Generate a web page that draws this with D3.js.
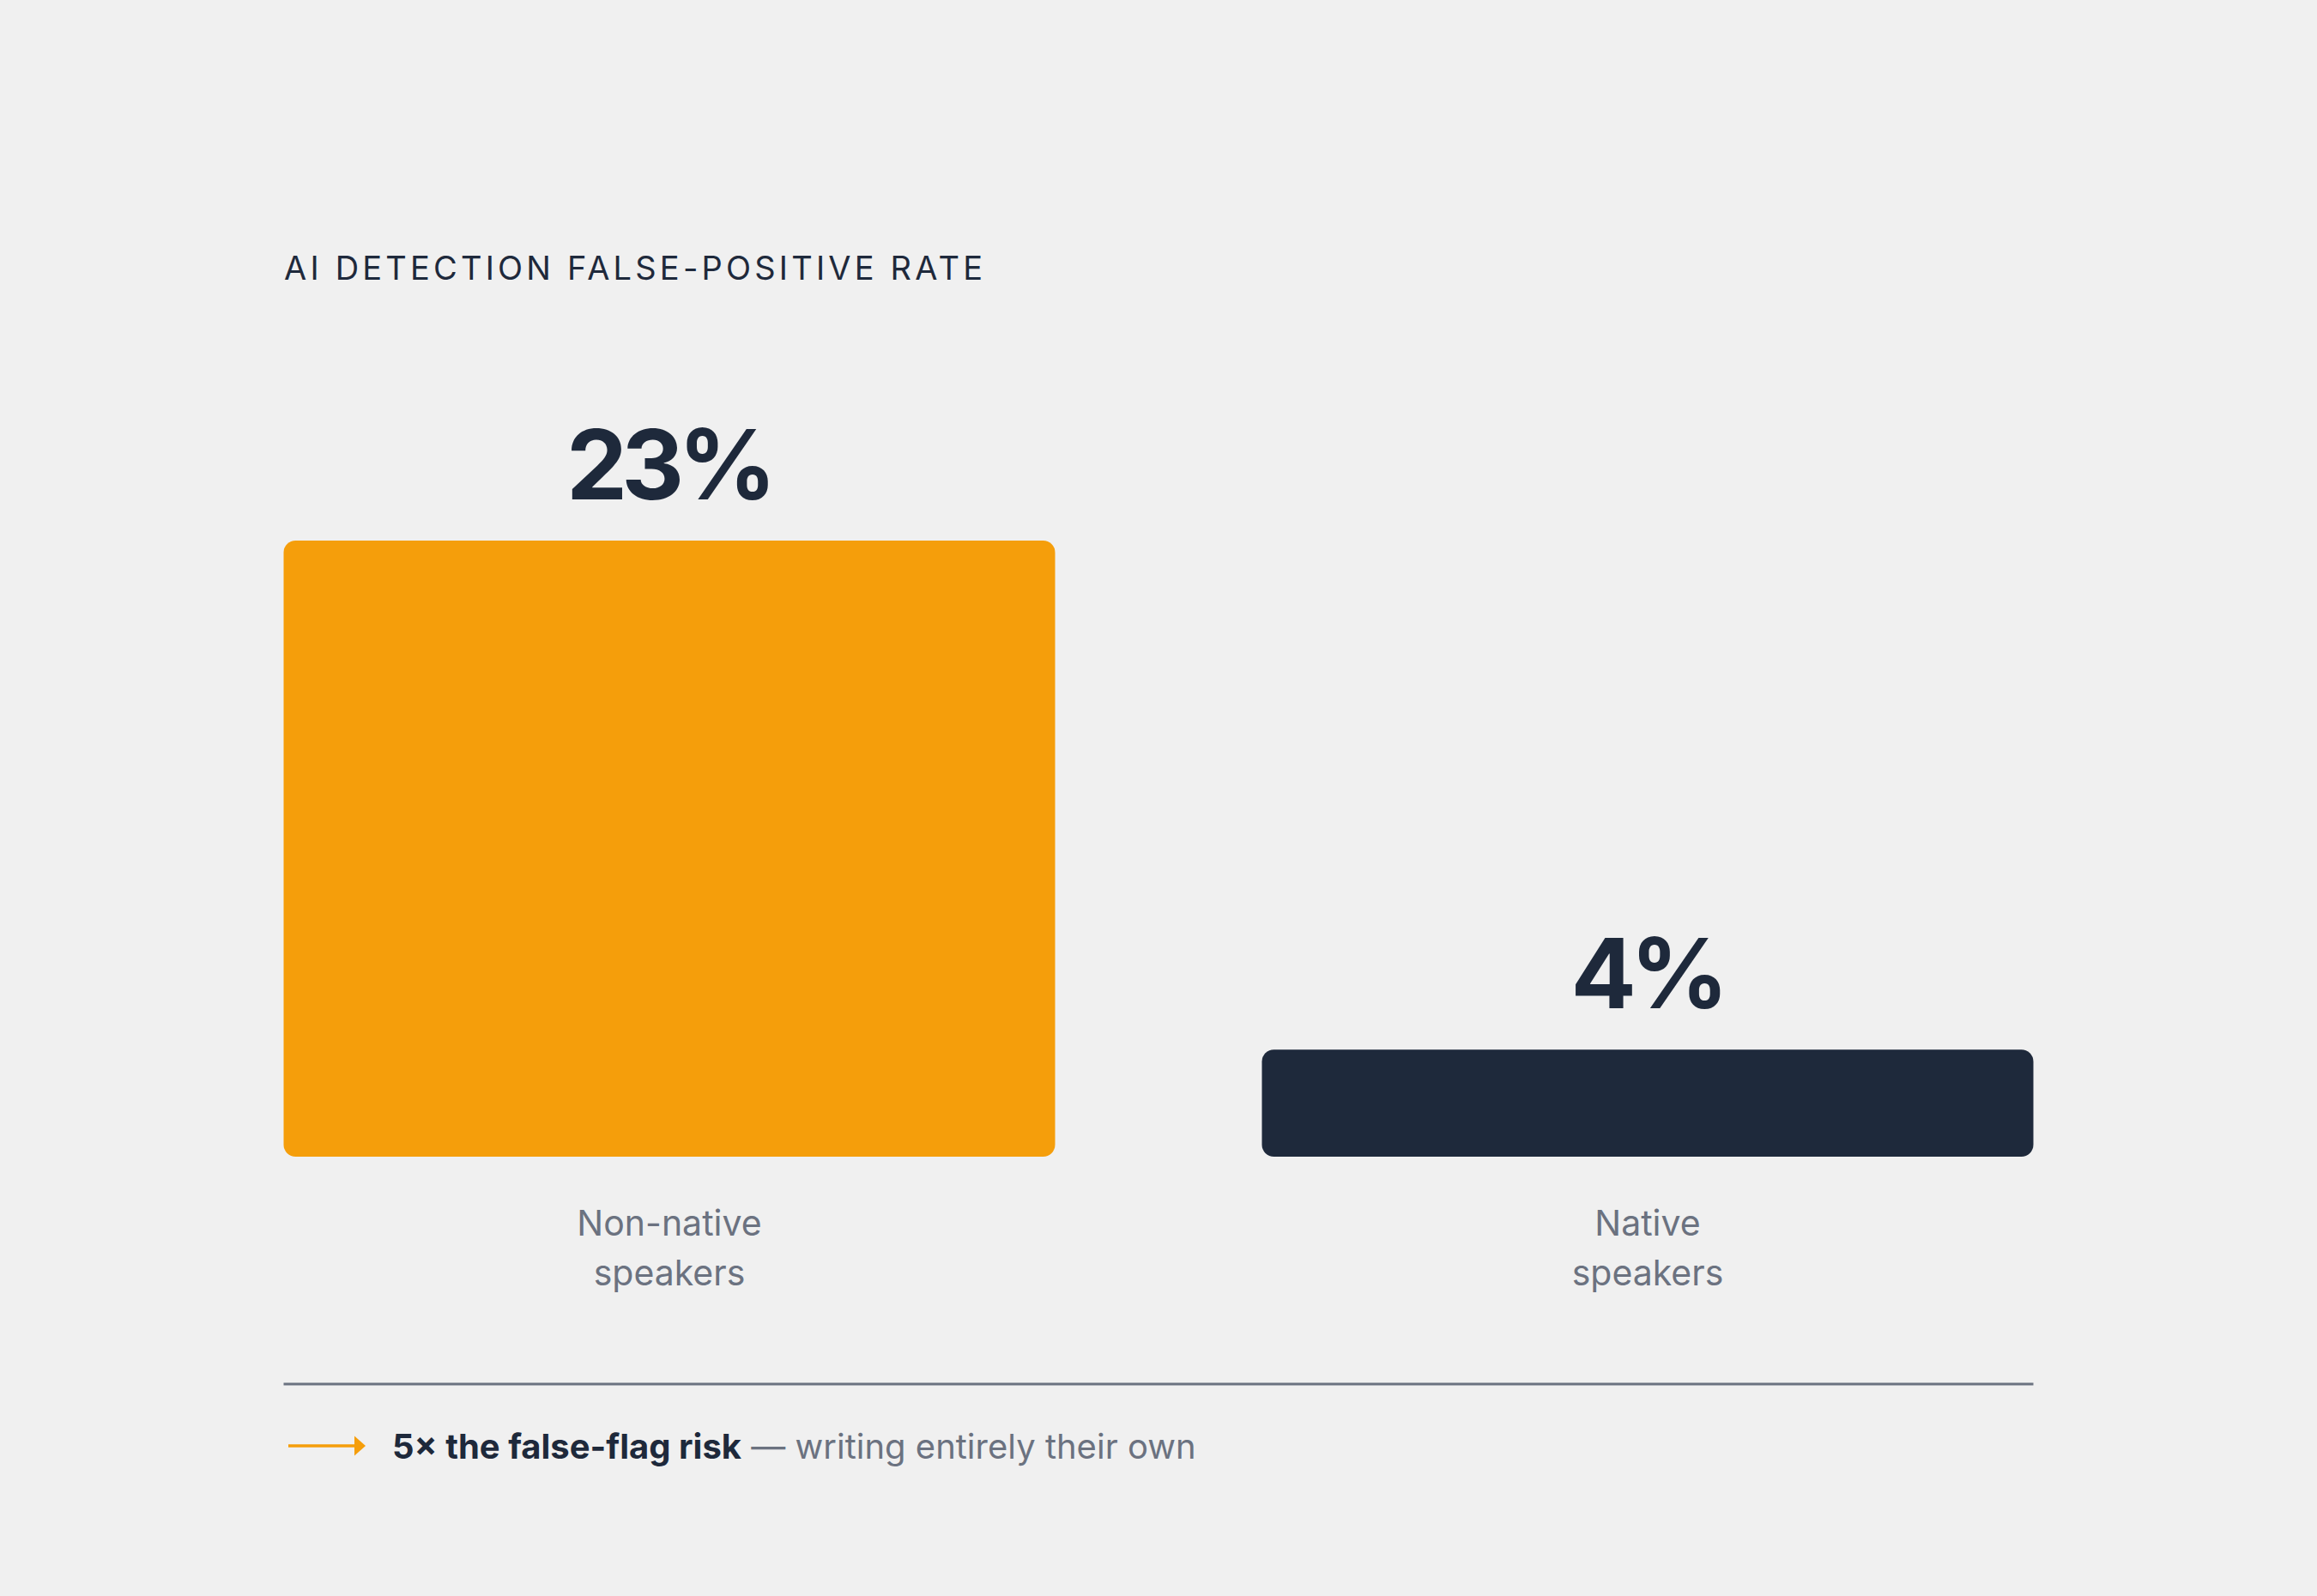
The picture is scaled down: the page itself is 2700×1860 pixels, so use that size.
<!DOCTYPE html>
<html><head><meta charset="utf-8">
<script src="https://cdn.jsdelivr.net/npm/d3@7"></script>
<style>html,body{margin:0;padding:0;background:#f0f0f0;} svg{display:block}</style>
</head><body>
<svg id="chart" width="2700" height="1860"></svg>
<script>
// ---- data ----
const categories = ["Non-native speakers", "Native speakers"];
const categoryLines = [["Non-native", "speakers"], ["Native", "speakers"]];
const values = [23, 4];
const valueLabels = ["23%", "4%"];
const barColors = ["#f59e0b", "#1e293b"];
const titleText = "AI DETECTION FALSE-POSITIVE RATE";
const noteBold = "5× the false-flag risk";
const noteRest = " — writing entirely their own";

// ---- layout ----
const FONT = "Inter, 'DejaVu Sans', sans-serif";
const svg = d3.select("#chart");
svg.append("rect").attr("width", 2700).attr("height", 1860).attr("fill", "#f0f0f0");

const x = d3.scaleBand().domain(d3.range(values.length)).range([330.5, 2369.5]).paddingInner(0.2114).paddingOuter(0);
const y = d3.scaleLinear().domain([0, d3.max(values)]).range([1348, 630]);

// title
const t = svg.append("text")
  .attr("x", 331).attr("y", 326)
  .attr("font-family", FONT).attr("font-size", 38).attr("font-weight", 400)
  .attr("fill", "#1e293b")
  .text(titleText);
(function(){
  const target = 814;
  const n = titleText.length;
  const w0 = t.node().getComputedTextLength();
  t.attr("letter-spacing", (target - w0) / (n - 1));
})();

// bars
svg.append("g").selectAll("rect").data(values).join("rect")
  .attr("x", (d, i) => x(i))
  .attr("y", d => y(d))
  .attr("width", x.bandwidth())
  .attr("height", d => y(0) - y(d))
  .attr("rx", 14).attr("ry", 14)
  .attr("fill", (d, i) => barColors[i]);

// value labels
svg.append("g").selectAll("text").data(values).join("text")
  .attr("x", (d, i) => x(i) + x.bandwidth() / 2 - 1)
  .attr("y", d => y(d) - 48)
  .attr("text-anchor", "middle")
  .attr("font-family", FONT).attr("font-size", 113).attr("font-weight", 700)
  .attr("letter-spacing", -7)
  .attr("fill", "#1e293b")
  .text((d, i) => valueLabels[i]);

// category labels
const cl = svg.append("g").selectAll("text").data(categoryLines).join("text")
  .attr("x", (d, i) => x(i) + x.bandwidth() / 2)
  .attr("y", 1440)
  .attr("text-anchor", "middle")
  .attr("font-family", FONT).attr("font-size", 41).attr("font-weight", 400)
  .attr("fill", "#6b7280");
cl.selectAll("tspan").data(d => d).join("tspan")
  .attr("x", function(){ return this.parentNode.getAttribute("x"); })
  .attr("dy", (d, j) => j === 0 ? 0 : 58)
  .text(d => d);

// separator
svg.append("line")
  .attr("x1", 330.5).attr("x2", 2369.5)
  .attr("y1", 1613).attr("y2", 1613)
  .attr("stroke", "#6b7280").attr("stroke-width", 3);

// footer arrow
svg.append("line")
  .attr("x1", 336).attr("x2", 415).attr("y1", 1685).attr("y2", 1685)
  .attr("stroke", "#f59e0b").attr("stroke-width", 3.5);
svg.append("path")
  .attr("d", "M413,1673.5 L426,1685 L413,1696.5 Z")
  .attr("fill", "#f59e0b");

// footer note
const note = svg.append("text")
  .attr("x", 457).attr("y", 1700)
  .attr("font-family", FONT).attr("font-size", 40);
note.append("tspan").attr("font-weight", 700).attr("fill", "#1e293b").text(noteBold);
note.append("tspan").attr("font-weight", 400).attr("fill", "#6b7280").text(noteRest);
</script>
</body></html>
